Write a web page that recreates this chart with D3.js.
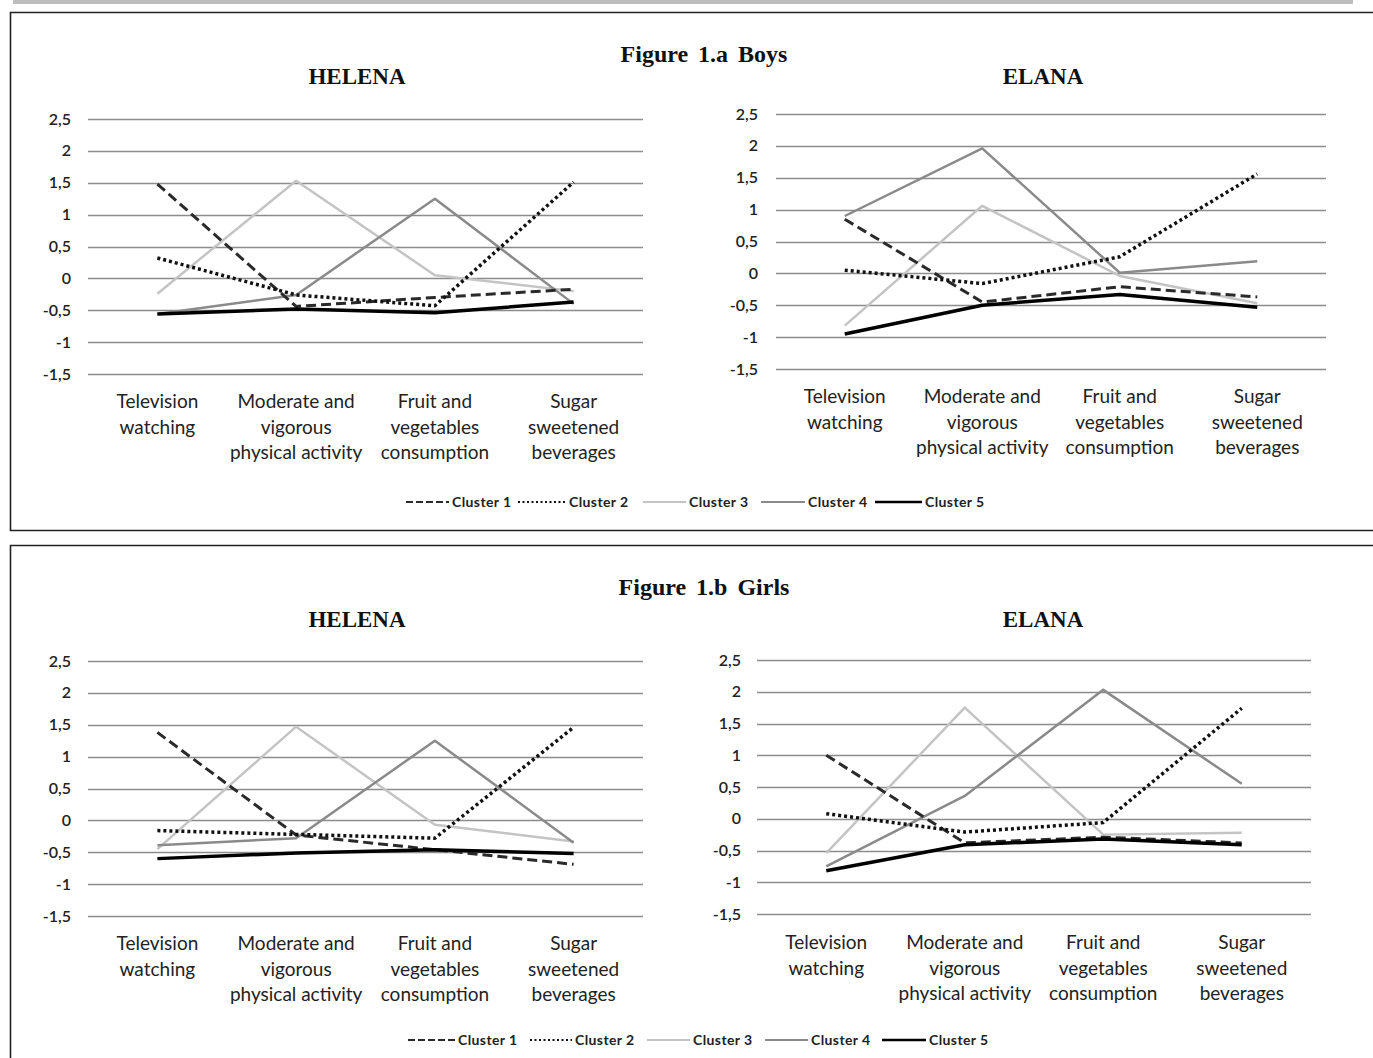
<!DOCTYPE html>
<html>
<head>
<meta charset="utf-8">
<script src="https://cdn.jsdelivr.net/npm/d3@7"></script>
<style>
  body { margin: 0; background: #fff; }
  svg { display: block; }
  .tick-label { font-family: Lato, "Open Sans", sans-serif; font-size: 16px; font-weight: 600; fill: #222; }
  .cat-label { font-family: Lato, "Open Sans", sans-serif; font-size: 19px; fill: #222; }
  .chart-title { font-family: "Liberation Serif", "Times New Roman", serif; font-weight: bold; font-size: 23px; fill: #111; }
  .fig-title { font-family: "Liberation Serif", "Times New Roman", serif; font-weight: bold; font-size: 24px; word-spacing: 4px; fill: #111; }
  .legend-label { font-family: Lato, "Open Sans", sans-serif; font-size: 14px; font-weight: bold; letter-spacing: 0.4px; fill: #222; }
</style>
</head>
<body>
<svg id="chart" width="1373" height="1058"></svg>
<script>

var categories = [
    ["Television", "watching"],
    ["Moderate and", "vigorous", "physical activity"],
    ["Fruit and", "vegetables", "consumption"],
    ["Sugar", "sweetened", "beverages"]
];
var yTicks = [2.5, 2, 1.5, 1, 0.5, 0, -0.5, -1, -1.5];
var clusterNames = ["Cluster 1", "Cluster 2", "Cluster 3", "Cluster 4", "Cluster 5"];

// values per cluster, in category order
var boysHelena = [
    [1.48, -0.44, -0.30, -0.17],
    [0.32, -0.26, -0.43, 1.51],
    [-0.24, 1.53, 0.05, -0.20],
    [-0.56, -0.26, 1.25, -0.40],
    [-0.56, -0.48, -0.54, -0.37]
];
var boysElana = [
    [0.85, -0.45, -0.21, -0.37],
    [0.05, -0.16, 0.26, 1.56],
    [-0.82, 1.06, -0.04, -0.47],
    [0.90, 1.96, 0.01, 0.19],
    [-0.95, -0.50, -0.33, -0.53]
];
var girlsHelena = [
    [1.38, -0.23, -0.46, -0.69],
    [-0.16, -0.22, -0.28, 1.46],
    [-0.45, 1.47, -0.07, -0.33],
    [-0.39, -0.28, 1.25, -0.35],
    [-0.60, -0.51, -0.46, -0.52]
];
var girlsElana = [
    [1.00, -0.38, -0.29, -0.38],
    [0.08, -0.21, -0.06, 1.74],
    [-0.54, 1.75, -0.25, -0.22],
    [-0.75, 0.36, 2.03, 0.55],
    [-0.82, -0.41, -0.32, -0.41]
];

// line styles for the five clusters
var styles = [
    { stroke: "#2a2a2a", width: 3, dash: "10,5" },
    { stroke: "#111", width: 3.5, dash: "3,3" },
    { stroke: "#c4c4c4", width: 2.5, dash: null },
    { stroke: "#8a8a8a", width: 2.5, dash: null },
    { stroke: "#000", width: 3.5, dash: null }
];

var svg = d3.select("#chart");

// top gray rule and the two panel frames
svg.append("rect").attr("x", 13).attr("y", 0).attr("width", 1340).attr("height", 4).attr("fill", "#bdbdbd");
svg.append("path").attr("d", "M1373,12.5H10.5V530.5H1373").attr("fill", "none").attr("stroke", "#222").attr("stroke-width", 1.6);
svg.append("path").attr("d", "M1373,545.5H10.5V1058").attr("fill", "none").attr("stroke", "#222").attr("stroke-width", 1.6);

function drawChart(cfg) {
    var g = svg.append("g");

    var x = d3.scaleBand()
        .domain(d3.range(categories.length))
        .range([cfg.x0, cfg.x1]);

    var y = d3.scaleLinear()
        .domain([-1.5, 2.5])
        .range([cfg.yBottom, cfg.yTop]);

    g.append("text")
        .attr("class", "chart-title")
        .attr("x", cfg.titleX)
        .attr("y", cfg.titleY)
        .attr("text-anchor", "middle")
        .text(cfg.title);

    // gridlines
    g.selectAll(".grid")
        .data(yTicks)
        .enter()
        .append("line")
        .attr("x1", cfg.x0)
        .attr("x2", cfg.x1)
        .attr("y1", function(d) { return Math.round(y(d)) + 0.5; })
        .attr("y2", function(d) { return Math.round(y(d)) + 0.5; })
        .attr("stroke", "#8c8c8c")
        .attr("stroke-width", 1.4);

    g.selectAll(".tick-label")
        .data(yTicks)
        .enter()
        .append("text")
        .attr("class", "tick-label")
        .attr("x", cfg.tickX)
        .attr("y", function(d) { return y(d); })
        .attr("dy", "0.35em")
        .attr("text-anchor", "end")
        .text(function(d) { return String(d).replace(".", ","); });

    // category labels
    var cats = g.selectAll(".cat")
        .data(categories)
        .enter()
        .append("text")
        .attr("class", "cat-label")
        .attr("text-anchor", "middle")
        .attr("transform", function(d, i) {
            return "translate(" + (x(i) + x.bandwidth() / 2) + "," + cfg.catY + ")";
        });
    cats.selectAll("tspan")
        .data(function(d) { return d; })
        .enter()
        .append("tspan")
        .attr("x", 0)
        .attr("y", function(d, i) { return i * 25.5; })
        .text(function(d) { return d; });

    var line = d3.line()
        .x(function(d, i) { return x(i) + x.bandwidth() / 2; })
        .y(function(d) { return y(d); });

    // draw light series first so the dark ones sit on top
    var order = [2, 3, 0, 1, 4];
    order.forEach(function(k) {
        var s = styles[k];
        g.append("path")
            .datum(cfg.data[k])
            .attr("d", line)
            .attr("fill", "none")
            .attr("stroke", s.stroke)
            .attr("stroke-width", s.width)
            .attr("stroke-dasharray", s.dash)
            .attr("stroke-linejoin", "round");
    });
}

function drawLegend(cfg) {
    var g = svg.append("g");
    clusterNames.forEach(function(name, k) {
        var s = styles[k];
        g.append("line")
            .attr("x1", cfg.lines[k][0])
            .attr("x2", cfg.lines[k][1])
            .attr("y1", cfg.y)
            .attr("y2", cfg.y)
            .attr("stroke", s.stroke)
            .attr("stroke-width", k == 4 ? 2.5 : 2)
            .attr("stroke-dasharray", k == 0 ? "7,3" : (k == 1 ? "2,2.5" : null));
        g.append("text")
            .attr("class", "legend-label")
            .attr("x", cfg.lines[k][1] + 3)
            .attr("y", cfg.y)
            .attr("dy", "0.35em")
            .text(name);
    });
}

svg.append("text").attr("class", "fig-title").attr("x", 704).attr("y", 62).attr("text-anchor", "middle").text("Figure 1.a Boys");
svg.append("text").attr("class", "fig-title").attr("x", 704).attr("y", 595).attr("text-anchor", "middle").text("Figure 1.b Girls");

drawChart({ title: "HELENA", titleX: 357, titleY: 84, x0: 88, x1: 643, yTop: 119, yBottom: 374, tickX: 71, catY: 408, data: boysHelena });
drawChart({ title: "ELANA", titleX: 1043, titleY: 84, x0: 776, x1: 1326, yTop: 114, yBottom: 369, tickX: 758, catY: 403, data: boysElana });
drawChart({ title: "HELENA", titleX: 357, titleY: 627, x0: 88, x1: 643, yTop: 661, yBottom: 916, tickX: 71, catY: 950, data: girlsHelena });
drawChart({ title: "ELANA", titleX: 1043, titleY: 627, x0: 757, x1: 1311, yTop: 660, yBottom: 914, tickX: 741, catY: 949, data: girlsElana });

drawLegend({ y: 502, lines: [[406, 449], [518, 566], [643, 686], [761, 805], [875, 922]] });
drawLegend({ y: 1040, lines: [[408, 455], [530, 572], [647, 690], [765, 808], [882, 926]] });

</script>
</body>
</html>
